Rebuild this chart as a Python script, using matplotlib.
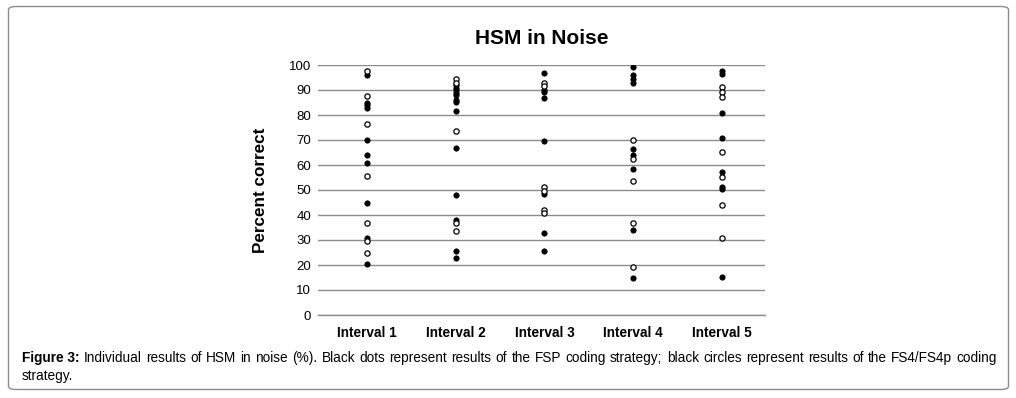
import matplotlib
matplotlib.use("Agg")
import matplotlib.pyplot as plt
from matplotlib.patches import FancyBboxPatch

plt.rcParams['font.family'] = ['Liberation Sans', 'DejaVu Sans']

categories = ["Interval 1", "Interval 2", "Interval 3", "Interval 4", "Interval 5"]

# FSP coding strategy (black dots)
fsp_1 = [96, 85, 84, 83, 70, 64, 61, 45, 31, 20.5]
fsp_2 = [92, 91, 90, 89, 88, 86, 85.2, 81.6, 66.8, 48, 38, 25.6, 22.8]
fsp_3 = [96.7, 90, 89.3, 86.7, 69.6, 48.5, 32.9, 25.8]
fsp_4 = [99.3, 96, 94.3, 93, 66.3, 64.2, 58.3, 34, 14.8]
fsp_5 = [97.6, 96.6, 80.7, 70.7, 57.3, 51.3, 50.3, 15.3]

# FS4/FS4p coding strategy (black circles)
fs4_1 = [97.5, 87.7, 76.3, 55.5, 37, 29.5, 25]
fs4_2 = [94.4, 93, 73.6, 37, 33.6]
fs4_3 = [92.9, 91.5, 51.2, 49.8, 42, 40.7]
fs4_4 = [70, 62.5, 53.6, 36.7, 19.3]
fs4_5 = [91.3, 89.3, 87.3, 65.3, 55.2, 44, 30.7]

fsp = [fsp_1, fsp_2, fsp_3, fsp_4, fsp_5]
fs4 = [fs4_1, fs4_2, fs4_3, fs4_4, fs4_5]
yticks = list(range(0, 101, 10))

W, H = 1016, 398
fig = plt.figure(figsize=(W / 100, H / 100), dpi=100)

# outer rounded frame
frame = FancyBboxPatch((8.5 / W, 8.5 / H), (1000 / W), (383 / H),
                       boxstyle="round,pad=0,rounding_size=0.008",
                       transform=fig.transFigure, fill=False,
                       edgecolor="#8a8a8a", linewidth=1.0)
fig.patches.append(frame)

ax = fig.add_axes([318 / W, 1 - 315 / H, 447 / W, 250 / H])
ax.set_xlim(0.448, 5.485)
ax.set_ylim(0, 100)
for s in ["top", "right", "left"]:
    ax.spines[s].set_visible(False)
ax.spines["bottom"].set_color("#8c8c8c")
ax.spines["bottom"].set_linewidth(1.0)
ax.set_yticks(yticks)
ax.yaxis.grid(True, color="#8c8c8c", linewidth=1.0)
ax.set_axisbelow(True)
ax.tick_params(axis="both", length=0)
ax.tick_params(axis="y", labelsize=9.5, pad=5)
ax.set_xticks(range(1, 6))
ax.set_xticklabels(categories, fontsize=9.8, fontweight="bold")
ax.tick_params(axis="x", pad=8)

for i in range(5):
    ax.plot([i + 1] * len(fsp[i]), fsp[i], linestyle="none", marker="o",
            markersize=3.8, markerfacecolor="black", markeredgecolor="black",
            markeredgewidth=0.6, zorder=3)
    ax.plot([i + 1] * len(fs4[i]), fs4[i], linestyle="none", marker="o",
            markersize=3.8, markerfacecolor="white", markeredgecolor="black",
            markeredgewidth=0.9, zorder=4)

ax.set_ylabel("Percent correct", fontsize=12.3, fontweight="bold", labelpad=15)
fig.text(542 / W, 1 - 38 / H, "HSM in Noise", fontsize=15, fontweight="bold",
         ha="center", va="center")

# caption, justified first line
fig.canvas.draw()
renderer = fig.canvas.get_renderer()
line1 = [("Figure 3:", "bold")] + [(w, "normal") for w in
         "Individual results of HSM in noise (%). Black dots represent results of the FSP coding strategy; black circles represent results of the FS4/FS4p coding".split()]
x0, x1 = 22, 997
y1 = 1 - 358 / H
texts = []
total = 0
for w, wt in line1:
    t = fig.text(0, y1, w, fontsize=9.8, fontweight=wt, ha="left", va="center")
    bb = t.get_window_extent(renderer)
    texts.append((t, bb.width))
    total += bb.width
gap = (x1 - x0 - total) / (len(texts) - 1)
x = x0
for t, wdt in texts:
    t.set_x(x / W)
    x += wdt + gap
fig.text(x0 / W, 1 - 376 / H, "strategy.", fontsize=9.8, ha="left", va="center")

fig.savefig("out.png", dpi=100)
